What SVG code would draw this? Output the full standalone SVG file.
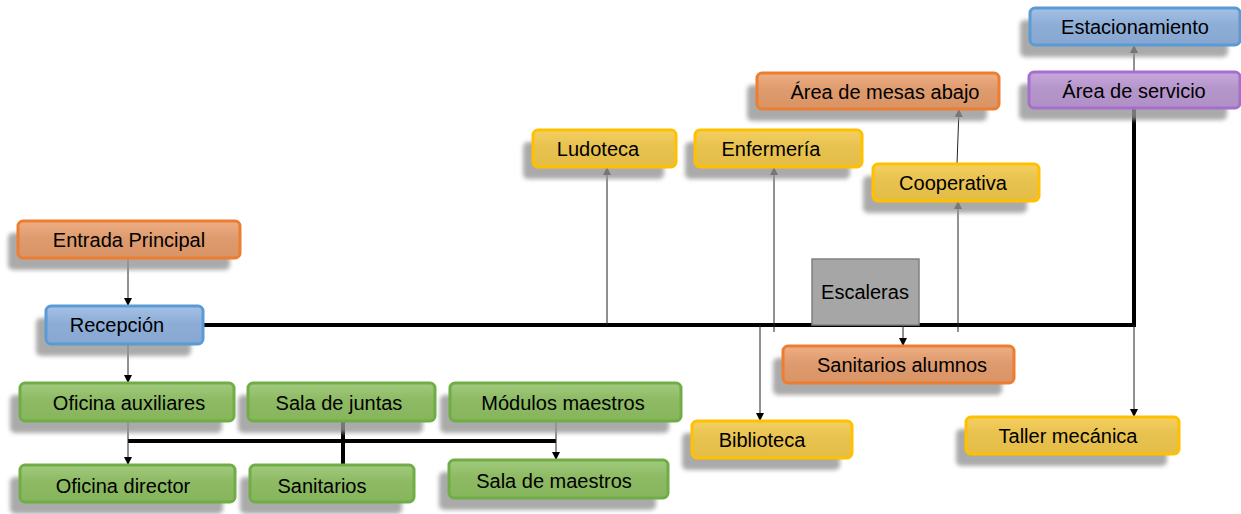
<svg xmlns="http://www.w3.org/2000/svg" width="1241" height="514" viewBox="0 0 1241 514">
<defs>
<filter id="blur" x="-10%" y="-40%" width="120%" height="180%"><feGaussianBlur stdDeviation="2.2"/></filter>
<linearGradient id="gO" x1="0" y1="0" x2="0" y2="1"><stop offset="0" stop-color="#eeae84"/><stop offset="0.45" stop-color="#de9b6e"/><stop offset="1" stop-color="#d99465"/></linearGradient>
<linearGradient id="gB" x1="0" y1="0" x2="0" y2="1"><stop offset="0" stop-color="#a4c2e6"/><stop offset="0.45" stop-color="#8eadd6"/><stop offset="1" stop-color="#87a7d2"/></linearGradient>
<linearGradient id="gG" x1="0" y1="0" x2="0" y2="1"><stop offset="0" stop-color="#a2cb7e"/><stop offset="0.45" stop-color="#8dba63"/><stop offset="1" stop-color="#87b55c"/></linearGradient>
<linearGradient id="gY" x1="0" y1="0" x2="0" y2="1"><stop offset="0" stop-color="#f4d062"/><stop offset="0.45" stop-color="#e8c24f"/><stop offset="1" stop-color="#e4bd48"/></linearGradient>
<linearGradient id="gP" x1="0" y1="0" x2="0" y2="1"><stop offset="0" stop-color="#c8a8dc"/><stop offset="0.45" stop-color="#b596cb"/><stop offset="1" stop-color="#b090c6"/></linearGradient>
<marker id="arr" viewBox="0 0 10 10" refX="10" refY="5" markerWidth="8" markerHeight="8" markerUnits="userSpaceOnUse" orient="auto"><path d="M0,0 L10,5 L0,10 z" fill="#000"/></marker>
</defs>
<style>
.sh{fill:#959595;opacity:0.8;filter:url(#blur)}
.box{stroke-width:3}
.o{fill:url(#gO);stroke:#ed7d31}
.b{fill:url(#gB);stroke:#5b9bd5}
.g{fill:url(#gG);stroke:#70ad47}
.y{fill:url(#gY);stroke:#ffc000}
.p{fill:url(#gP);stroke:#a66fce}
.gray{fill:#a6a6a6;stroke:#808080;stroke-width:1.5}
text{font-family:"Liberation Sans",Arial,sans-serif;font-size:20px;fill:#000;text-anchor:middle;dominant-baseline:central}
.thin{stroke:#222;stroke-width:1;fill:none}
.thick{stroke:#000;stroke-width:4;fill:none}
</style>
<rect width="1241" height="514" fill="#fff"/>

<g id="connectors">
<path class="thick" d="M203,325 H1134 V108"/>
<path class="thick" d="M128,441 H556"/>
<path class="thick" d="M343,421 V465"/>
<path class="thin" d="M128,258 V306" marker-end="url(#arr)"/>
<path class="thin" d="M128,344 V383" marker-end="url(#arr)"/>
<path class="thin" d="M128,421 V465" marker-end="url(#arr)"/>
<path class="thin" d="M556,421 V460" marker-end="url(#arr)"/>
<path class="thin" d="M607,325 V167" marker-end="url(#arr)"/>
<path class="thin" d="M774,332 V167" marker-end="url(#arr)"/>
<path class="thin" d="M760,325 V421" marker-end="url(#arr)"/>
<path class="thin" d="M958,332 V201" marker-end="url(#arr)"/>
<path class="thin" d="M957,164 L959,109" marker-end="url(#arr)"/>
<path class="thin" d="M1134,72 V45" marker-end="url(#arr)"/>
<path class="thin" d="M1134,325 V417" marker-end="url(#arr)"/>
<path class="thin" d="M903,325 V346" marker-end="url(#arr)"/>
</g>

<g id="n-estacionamiento"><rect class="sh" x="1020" y="20" width="208" height="37" rx="5"/><rect class="box b" x="1030" y="8" width="210" height="37" rx="5"/><text x="1135" y="27">Estacionamiento</text></g>
<g id="n-area-servicio"><rect class="sh" x="1019" y="84" width="208" height="36" rx="5"/><rect class="box p" x="1029" y="72" width="211" height="36" rx="5"/><text x="1134" y="91">Área de servicio</text></g>
<g id="n-area-mesas"><rect class="sh" x="747" y="85" width="240" height="36" rx="5"/><rect class="box o" x="757" y="73" width="242" height="36" rx="5"/><text x="885" y="92">Área de mesas abajo</text></g>
<g id="n-ludoteca"><rect class="sh" x="523" y="142" width="141" height="37" rx="5"/><rect class="box y" x="533" y="130" width="143" height="37" rx="5"/><text x="598" y="149">Ludoteca</text></g>
<g id="n-enfermeria"><rect class="sh" x="685" y="142" width="165" height="37" rx="5"/><rect class="box y" x="695" y="130" width="167" height="37" rx="5"/><text x="771" y="149">Enfermería</text></g>
<g id="n-cooperativa"><rect class="sh" x="863" y="176" width="164" height="37" rx="5"/><rect class="box y" x="873" y="164" width="166" height="37" rx="5"/><text x="953" y="183">Cooperativa</text></g>
<g id="n-entrada"><rect class="sh" x="8" y="233" width="222" height="37" rx="5"/><rect class="box o" x="18" y="221" width="222" height="37" rx="5"/><text x="129" y="240">Entrada Principal</text></g>
<g id="n-recepcion"><rect class="sh" x="36" y="318" width="155" height="38" rx="5"/><rect class="box b" x="46" y="306" width="157" height="38" rx="5"/><text x="117" y="325">Recepción</text></g>
<g id="n-escaleras"><rect class="gray" x="812" y="259" width="107" height="66"/><text x="865" y="292">Escaleras</text></g>
<g id="n-sanitarios-alumnos"><rect class="sh" x="773" y="358" width="229" height="37" rx="5"/><rect class="box o" x="783" y="346" width="231" height="37" rx="5"/><text x="902" y="365">Sanitarios alumnos</text></g>
<g id="n-oficina-aux"><rect class="sh" x="10" y="395" width="212" height="38" rx="5"/><rect class="box g" x="20" y="383" width="214" height="38" rx="5"/><text x="129" y="403">Oficina auxiliares</text></g>
<g id="n-sala-juntas"><rect class="sh" x="238" y="395" width="185" height="38" rx="5"/><rect class="box g" x="248" y="383" width="187" height="38" rx="5"/><text x="339" y="403">Sala de juntas</text></g>
<g id="n-modulos"><rect class="sh" x="440" y="395" width="229" height="38" rx="5"/><rect class="box g" x="450" y="383" width="231" height="38" rx="5"/><text x="563" y="403">Módulos maestros</text></g>
<g id="n-biblioteca"><rect class="sh" x="682" y="433" width="158" height="37" rx="5"/><rect class="box y" x="692" y="421" width="160" height="37" rx="5"/><text x="762" y="440">Biblioteca</text></g>
<g id="n-taller"><rect class="sh" x="956" y="429" width="211" height="37" rx="5"/><rect class="box y" x="966" y="417" width="213" height="37" rx="5"/><text x="1068" y="436">Taller mecánica</text></g>
<g id="n-oficina-dir"><rect class="sh" x="10" y="477" width="213" height="37" rx="5"/><rect class="box g" x="20" y="465" width="215" height="37" rx="5"/><text x="123" y="486">Oficina director</text></g>
<g id="n-sanitarios"><rect class="sh" x="240" y="477" width="162" height="37" rx="5"/><rect class="box g" x="250" y="465" width="164" height="37" rx="5"/><text x="322" y="486">Sanitarios</text></g>
<g id="n-sala-maestros"><rect class="sh" x="439" y="472" width="217" height="38" rx="5"/><rect class="box g" x="449" y="460" width="219" height="38" rx="5"/><text x="554" y="481">Sala de maestros</text></g>
</svg>
